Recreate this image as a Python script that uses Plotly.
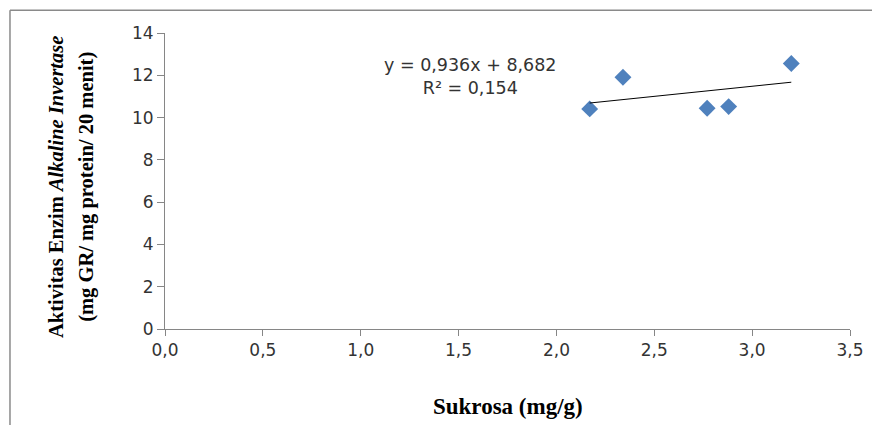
import numpy as np
import plotly.graph_objects as go

# Data
sukrosa = [2.17, 2.34, 2.77, 2.88, 3.20]
aktivitas = [10.41, 11.91, 10.44, 10.52, 12.56]
x_ticks = [0.0, 0.5, 1.0, 1.5, 2.0, 2.5, 3.0, 3.5]
x_tick_labels = ["0,0", "0,5", "1,0", "1,5", "2,0", "2,5", "3,0", "3,5"]
y_ticks = [0, 2, 4, 6, 8, 10, 12, 14]
equation_text = "y = 0,936x + 8,682<br>R² = 0,154"

slope, intercept = np.polyfit(sukrosa, aktivitas, 1)
trend_x = [min(sukrosa), max(sukrosa)]
trend_y = [slope * v + intercept for v in trend_x]

fig = go.Figure()
fig.add_trace(go.Scatter(
    x=sukrosa, y=aktivitas, mode="markers",
    marker=dict(symbol="diamond", size=13, color="#4F81BD",
                line=dict(width=0)),
    showlegend=False, hoverinfo="x+y"))
fig.add_trace(go.Scatter(
    x=trend_x, y=trend_y, mode="lines",
    line=dict(color="black", width=1), showlegend=False, hoverinfo="skip"))

axis_color = "#868686"
tick_font = dict(family="DejaVu Sans", size=17, color="#333333")

fig.update_layout(
    width=872, height=417,
    margin=dict(l=157, r=30, t=25, b=96),
    paper_bgcolor="white", plot_bgcolor="rgba(0,0,0,0)",
    xaxis=dict(range=[0, 3.5], tickvals=x_ticks, ticktext=x_tick_labels,
               showgrid=False, zeroline=False, showline=True,
               linecolor=axis_color, linewidth=1,
               ticks="outside", ticklen=6, tickcolor=axis_color,
               tickfont=tick_font, fixedrange=True),
    yaxis=dict(range=[0, 14], tickvals=y_ticks,
               showgrid=False, zeroline=False, showline=True,
               linecolor=axis_color, linewidth=1,
               ticks="outside", ticklen=7, tickcolor=axis_color,
               tickfont=tick_font, fixedrange=True),
    font=dict(family="DejaVu Sans", color="#333333"),
)

# Equation annotation
fig.add_annotation(x=1.56, y=11.95, xref="x", yref="y", text=equation_text,
                   showarrow=False, align="center",
                   font=dict(family="DejaVu Sans", size=17.5, color="#333333"))

# Axis titles
title_font = dict(family="Liberation Serif", size=23, color="black")
fig.add_annotation(x=0.5, y=-0.262, xref="paper", yref="paper",
                   text="<b>Sukrosa (mg/g)</b>", showarrow=False,
                   xanchor="center", yanchor="middle", font=title_font)
ytitle_font = dict(family="Liberation Serif", size=20.5, color="black")
fig.add_annotation(x=-0.159, y=0.48, xref="paper", yref="paper",
                   text="<b>Aktivitas Enzim <i>Alkaline Invertase</i></b>",
                   showarrow=False, textangle=-90,
                   xanchor="center", yanchor="middle", font=ytitle_font)
fig.add_annotation(x=-0.114, y=0.48, xref="paper", yref="paper",
                   text="<b>(mg GR/ mg protein/ 20 menit)</b>",
                   showarrow=False, textangle=-90,
                   xanchor="center", yanchor="middle", font=ytitle_font)

# Outer frame (left and top edges visible in the reference)
frame_color = "#8a8a8a"
fig.add_shape(type="line", xref="paper", yref="paper",
              x0=-0.2263, x1=-0.2263, y0=1.0766, y1=-0.35,
              line=dict(color=frame_color, width=1.5))
fig.add_shape(type="line", xref="paper", yref="paper",
              x0=-0.2263, x1=1.06, y0=1.0766, y1=1.0766,
              line=dict(color=frame_color, width=1.5))

fig.write_html("out.html")
